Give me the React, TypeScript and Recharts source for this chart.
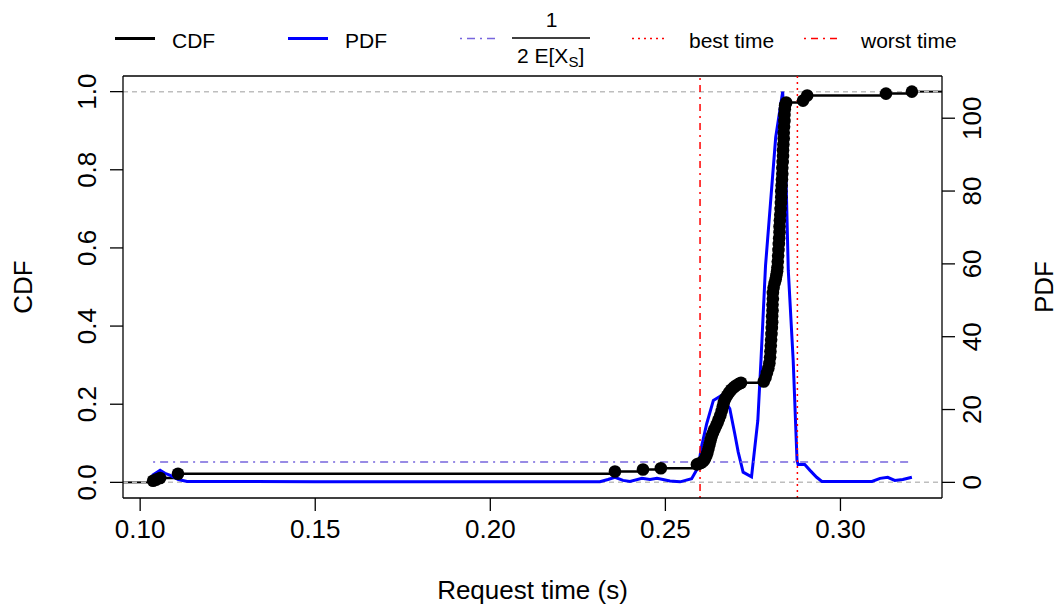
import React from "react";
import { ComposedChart, Line, XAxis, YAxis, ReferenceLine } from "recharts";

const FONT = "'Liberation Sans', Arial, Helvetica, sans-serif";

// empirical CDF: request time (s) of each sample and the CDF level there
const cdfTime = [
  0.1037, 0.1046, 0.1057, 0.1108, 0.2356, 0.2436, 0.2487, 0.259,
  0.2596, 0.2602, 0.2608, 0.2613, 0.2617, 0.262, 0.2623, 0.2626, 0.2629, 0.2632,
  0.2636, 0.264, 0.2645, 0.2649, 0.2653, 0.2657, 0.2661, 0.2664, 0.2667, 0.2671,
  0.2676, 0.2682, 0.2688, 0.2695, 0.2702, 0.271, 0.2716,
  0.2781, 0.2786, 0.279, 0.2794, 0.2797, 0.2799, 0.28, 0.2801, 0.2802, 0.2803,
  0.2804, 0.2805, 0.2805, 0.2806, 0.2806, 0.2807, 0.2807, 0.2809, 0.2812, 0.2815,
  0.2817, 0.2819, 0.282,
  0.2821, 0.2822, 0.2823, 0.2824, 0.2825, 0.2826, 0.2826, 0.2827, 0.2828, 0.2829,
  0.283, 0.2831, 0.2831, 0.2832, 0.2833, 0.2834, 0.2834, 0.2835, 0.2836, 0.2836,
  0.2837, 0.2838, 0.2838, 0.2839, 0.284, 0.284, 0.2841, 0.2842, 0.2845,
  0.2893, 0.2905, 0.313, 0.3204,
];
const cdfLevel = [
  0.004, 0.007, 0.011, 0.022, 0.028, 0.033, 0.036, 0.046,
  0.048, 0.05, 0.054, 0.06, 0.068, 0.076, 0.086, 0.097, 0.108, 0.118,
  0.127, 0.136, 0.145, 0.153, 0.162, 0.172, 0.183, 0.194, 0.205, 0.214,
  0.222, 0.23, 0.237, 0.243, 0.248, 0.252, 0.255,
  0.258, 0.268, 0.28, 0.292, 0.305, 0.32, 0.335, 0.35, 0.365, 0.38,
  0.395, 0.41, 0.425, 0.44, 0.455, 0.47, 0.485, 0.498, 0.51, 0.52,
  0.53, 0.54, 0.55,
  0.565, 0.58, 0.595, 0.61, 0.625, 0.64, 0.655, 0.67, 0.685, 0.7,
  0.715, 0.73, 0.745, 0.76, 0.775, 0.79, 0.805, 0.82, 0.835, 0.85,
  0.865, 0.88, 0.895, 0.91, 0.925, 0.94, 0.955, 0.965, 0.972,
  0.977, 0.99, 0.995, 1.0,
];

// kernel density estimate
const pdfTime = [
  0.1034, 0.1057, 0.1071, 0.1086, 0.1109, 0.1134, 0.15, 0.2, 0.2313,
  0.2336, 0.2356, 0.2379, 0.2399, 0.2433, 0.2456, 0.2476, 0.2493, 0.2513, 0.2542,
  0.2575, 0.2594, 0.2603, 0.2618, 0.2637, 0.2661, 0.2684, 0.2698, 0.2708, 0.2722,
  0.2746, 0.2764, 0.2773, 0.2786, 0.28, 0.2815, 0.2835, 0.2844, 0.2851, 0.2865,
  0.2876, 0.2879, 0.2898, 0.2913, 0.2932, 0.2947, 0.309, 0.3113, 0.3135, 0.3155,
  0.3178, 0.3204,
];
const pdfValue = [
  1.9, 3.3, 2.5, 1.9, 0.8, 0.25, 0.2, 0.2, 0.2,
  0.8, 1.4, 0.55, 0.27, 1.1, 0.8, 1.1, 0.8, 0.4, 0.15,
  1.0, 4.2, 9.7, 16.1, 22.5, 23.9, 20.2, 13.4, 8.3, 2.8,
  1.5, 17.0, 33.5, 59.5, 76.5, 94.7, 107.3, 85.6, 58.2, 33.5,
  6.0, 4.9, 4.9, 3.3, 1.4, 0.25, 0.25, 1.1, 1.4, 0.55,
  0.8, 1.4,
];

const xTicks = [0.1, 0.15, 0.2, 0.25, 0.3];
const cdfTicks = [0, 0.2, 0.4, 0.6, 0.8, 1];
const pdfTicks = [0, 20, 40, 60, 80, 100];

const halfInvMean = 5.56; // 1 / (2 E[X_S])
const bestTime = 0.2877;
const worstTime = 0.2599;

const X_DOMAIN: [number, number] = [0.0951, 0.329];
const PDF_MAX = Math.max(...pdfValue);
const CDF_DOMAIN: [number, number] = [-0.04, 1.04];
const PDF_DOMAIN: [number, number] = [-0.04 * PDF_MAX, 1.04 * PDF_MAX];

const cdfData = cdfTime.map((x, i) => ({ x, y: cdfLevel[i] }));
const pdfData = pdfTime.map((x, i) => ({ x, y: pdfValue[i] }));

const W = 1062;
const H = 606;
const LEFT = 123;
const RIGHT = 942;
const TOP = 76;
const BOTTOM = 498;

const axisTxt = { fontFamily: FONT, fontSize: 26, fill: "#000" };
const legTxt = { fontFamily: FONT, fontSize: 21, fill: "#000" };

const XTick = ({ x, payload }: any) => (
  <text x={x} y={538} textAnchor="middle" {...axisTxt}>
    {payload.value.toFixed(2)}
  </text>
);

const LeftTick = ({ y, payload }: any) => (
  <text x={96} y={y} textAnchor="middle" transform={`rotate(-90, 96, ${y})`} {...axisTxt}>
    {payload.value.toFixed(1)}
  </text>
);

const RightTick = ({ y, payload }: any) => (
  <text x={981} y={y} textAnchor="middle" transform={`rotate(-90, 981, ${y})`} {...axisTxt}>
    {payload.value}
  </text>
);

function Overlay() {
  const midY = (TOP + BOTTOM) / 2;
  return (
    <svg
      width={W}
      height={H}
      style={{ position: "absolute", left: 0, top: 0, pointerEvents: "none" }}
    >
      {/* legend */}
      <line x1={115} x2={155} y1={38.5} y2={38.5} stroke="#000" strokeWidth={3} />
      <text x={172} y={48} {...legTxt}>CDF</text>
      <line x1={288} x2={328} y1={38.5} y2={38.5} stroke="#0000FF" strokeWidth={3} />
      <text x={345} y={48} {...legTxt}>PDF</text>
      <line x1={460} x2={497} y1={38.5} y2={38.5} stroke="#7766DD" strokeWidth={1.5} strokeDasharray="2 5 8 5" />
      <text x={551.5} y={27} textAnchor="middle" {...legTxt}>1</text>
      <line x1={512} x2={590} y1={38} y2={38} stroke="#000" strokeWidth={1.3} />
      <text x={517} y={63} {...legTxt}>
        2 E[X<tspan dy={4} fontSize={15}>S</tspan>
        <tspan dy={-4}>]</tspan>
      </text>
      <line x1={632} x2={668} y1={38.5} y2={38.5} stroke="#FF0000" strokeWidth={1.5} strokeDasharray="2 4" />
      <text x={689} y={48} {...legTxt}>best time</text>
      <line x1={804} x2={842} y1={38.5} y2={38.5} stroke="#FF0000" strokeWidth={1.5} strokeDasharray="2 5 7 5" />
      <text x={861} y={48} {...legTxt}>worst time</text>

      {/* axis titles */}
      <text x={(LEFT + RIGHT) / 2} y={599} textAnchor="middle" {...axisTxt}>
        Request time (s)
      </text>
      <text x={32} y={midY} textAnchor="middle" transform={`rotate(-90, 32, ${midY})`} {...axisTxt}>
        CDF
      </text>
      <text x={1053} y={midY} textAnchor="middle" transform={`rotate(-90, 1053, ${midY})`} {...axisTxt}>
        PDF
      </text>
    </svg>
  );
}

export default function App() {
  return (
    <div style={{ position: "absolute", left: 0, top: 0, width: W, height: H, background: "#fff" }}>
      <ComposedChart width={W} height={H} margin={{ top: TOP, right: 0, bottom: 0, left: 0 }}>
        <XAxis
          type="number"
          dataKey="x"
          domain={X_DOMAIN}
          allowDataOverflow
          ticks={xTicks}
          tick={<XTick />}
          tickSize={13}
          height={H - BOTTOM}
          axisLine={{ stroke: "#000", strokeWidth: 1.3 }}
          tickLine={{ stroke: "#000", strokeWidth: 1.3 }}
        />
        <YAxis
          yAxisId="cdf"
          type="number"
          domain={CDF_DOMAIN}
          allowDataOverflow
          ticks={cdfTicks}
          tick={<LeftTick />}
          tickSize={13}
          width={LEFT}
          axisLine={{ stroke: "#000", strokeWidth: 1.3 }}
          tickLine={{ stroke: "#000", strokeWidth: 1.3 }}
        />
        <YAxis
          yAxisId="pdf"
          orientation="right"
          type="number"
          domain={PDF_DOMAIN}
          allowDataOverflow
          ticks={pdfTicks}
          tick={<RightTick />}
          tickSize={13}
          width={W - RIGHT}
          axisLine={{ stroke: "#000", strokeWidth: 1.3 }}
          tickLine={{ stroke: "#000", strokeWidth: 1.3 }}
        />

        {/* top border of the box */}
        <ReferenceLine yAxisId="cdf" y={CDF_DOMAIN[1]} stroke="#000" strokeWidth={1.3} ifOverflow="visible" />

        {/* ecdf continues flat outside the sample range */}
        <ReferenceLine
          yAxisId="cdf"
          segment={[{ x: X_DOMAIN[0], y: 0 }, { x: cdfTime[0], y: 0 }]}
          stroke="#000"
          strokeWidth={2}
        />
        <ReferenceLine
          yAxisId="cdf"
          segment={[{ x: cdfTime[cdfTime.length - 1], y: 1 }, { x: X_DOMAIN[1], y: 1 }]}
          stroke="#000"
          strokeWidth={2}
        />
        <ReferenceLine yAxisId="cdf" y={0} stroke="#BEBEBE" strokeWidth={1.5} strokeDasharray="5 4" />
        <ReferenceLine yAxisId="cdf" y={1} stroke="#BEBEBE" strokeWidth={1.5} strokeDasharray="5 4" />

        <Line
          yAxisId="cdf"
          data={cdfData}
          dataKey="y"
          type="stepAfter"
          stroke="#000"
          strokeWidth={2.5}
          dot={{ r: 6.3, fill: "#000", stroke: "#000", strokeWidth: 0 }}
          activeDot={false}
          isAnimationActive={false}
        />
        <Line
          yAxisId="pdf"
          data={pdfData}
          dataKey="y"
          type="linear"
          stroke="#0000FF"
          strokeWidth={3}
          dot={false}
          activeDot={false}
          isAnimationActive={false}
        />

        <ReferenceLine
          yAxisId="pdf"
          segment={[{ x: cdfTime[0], y: halfInvMean }, { x: cdfTime[cdfTime.length - 1], y: halfInvMean }]}
          stroke="#7766DD"
          strokeWidth={1.5}
          strokeDasharray="2 5 8 5"
        />
        <ReferenceLine yAxisId="cdf" x={worstTime} stroke="#FF0000" strokeWidth={1.5} strokeDasharray="2 5 7 5" />
        <ReferenceLine yAxisId="cdf" x={bestTime} stroke="#FF0000" strokeWidth={1.5} strokeDasharray="2 4" />
      </ComposedChart>
      <Overlay />
    </div>
  );
}
